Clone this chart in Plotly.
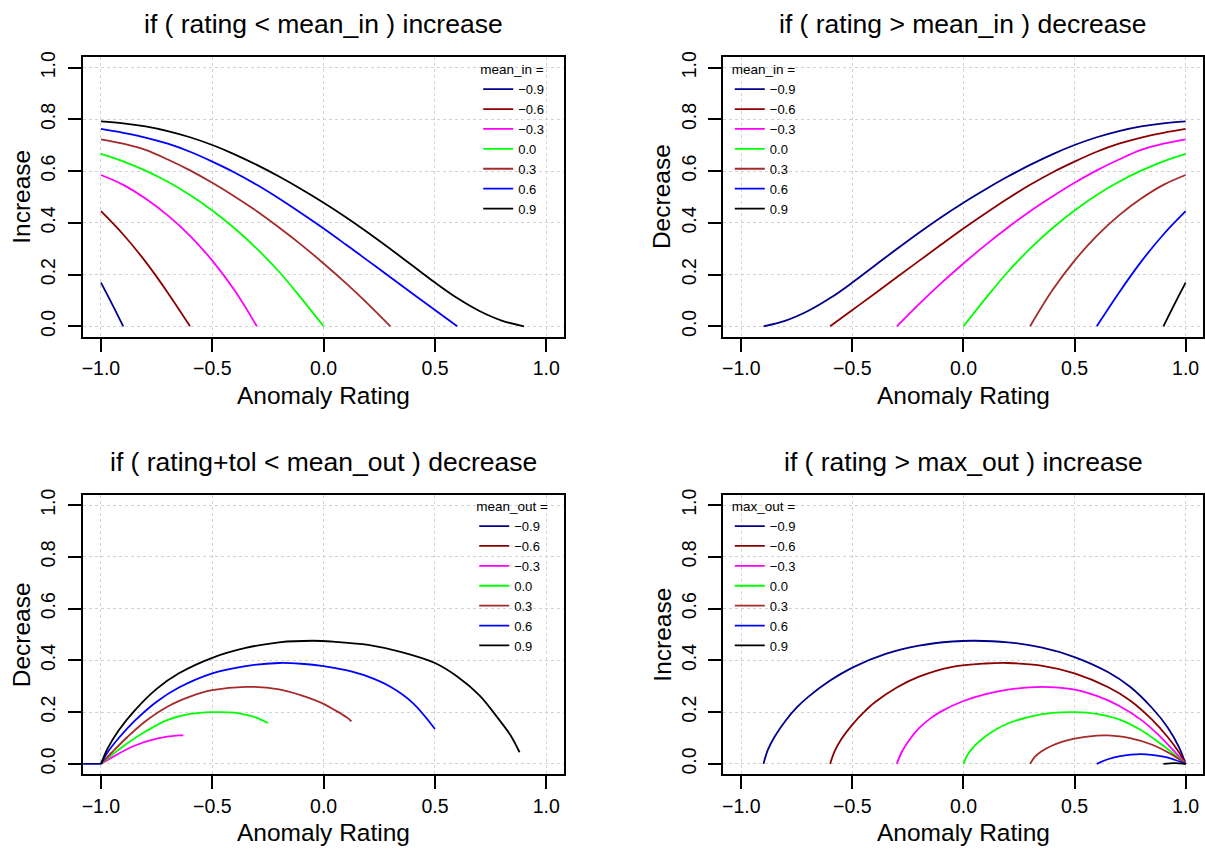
import plotly.graph_objects as go

# ---------------- axis ticks / labels ----------------
X_TICKS = [-1.0, -0.5, 0.0, 0.5, 1.0]
X_TICK_TEXT = ["\u22121.0", "\u22120.5", "0.0", "0.5", "1.0"]
Y_TICKS = [0.0, 0.2, 0.4, 0.6, 0.8, 1.0]
Y_TICK_TEXT = ["0.0", "0.2", "0.4", "0.6", "0.8", "1.0"]

SERIES_LABELS = ["\u22120.9", "\u22120.6", "\u22120.3", "0.0", "0.3", "0.6", "0.9"]
SERIES_COLORS = ["#00008B", "#8B0000", "#FF00FF", "#00FF00", "#A52A2A", "#0000FF", "#000000"]

TITLES = ["if ( rating < mean_in ) increase", "if ( rating > mean_in ) decrease",
          "if ( rating+tol < mean_out ) decrease", "if ( rating > max_out ) increase"]
Y_TITLES = ["Increase", "Decrease", "Decrease", "Increase"]
X_TITLE = "Anomaly Rating"
LEGEND_TITLES = ["mean_in =", "mean_in =", "mean_out =", "max_out ="]

# ---------------- panel 1: if (rating < mean_in) increase ----------------
p1_x = [
    [-1.0, -0.95, -0.9],
    [-1.0, -0.9, -0.8, -0.7, -0.6],
    [-1.0, -0.9, -0.8, -0.7, -0.6, -0.5, -0.4, -0.3],
    [-1.0, -0.9, -0.8, -0.7, -0.6, -0.5, -0.4, -0.3, -0.2, -0.1, 0.0],
    [-1.0, -0.9, -0.8, -0.7, -0.6, -0.5, -0.4, -0.3, -0.2, -0.1, 0.0, 0.1, 0.2, 0.3],
    [-1.0, -0.9, -0.8, -0.7, -0.6, -0.5, -0.4, -0.3, -0.2, -0.1, 0.0, 0.1, 0.2, 0.3, 0.4, 0.5, 0.6],
    [-1.0, -0.9, -0.8, -0.7, -0.6, -0.5, -0.4, -0.3, -0.2, -0.1, 0.0, 0.1, 0.2, 0.3, 0.4, 0.5,
     0.6, 0.7, 0.8, 0.9],
]
p1_y = [
    [0.169, 0.086, 0.0],
    [0.445, 0.355, 0.25, 0.13, 0.0],
    [0.585, 0.547, 0.494, 0.429, 0.35, 0.254, 0.139, 0.0],
    [0.667, 0.638, 0.602, 0.559, 0.508, 0.448, 0.379, 0.30, 0.211, 0.108, 0.0],
    [0.723, 0.706, 0.682, 0.645, 0.603, 0.555, 0.502, 0.445, 0.382, 0.315, 0.243, 0.167, 0.086, 0.0],
    [0.763, 0.748, 0.73, 0.706, 0.675, 0.637, 0.595, 0.547, 0.494, 0.437, 0.378, 0.316, 0.253,
     0.19, 0.126, 0.063, 0.0],
    [0.792, 0.785, 0.773, 0.755, 0.731, 0.701, 0.665, 0.624, 0.579, 0.53, 0.478, 0.422, 0.362,
     0.299, 0.234, 0.169, 0.109, 0.059, 0.022, 0.0],
]

# ---------------- panel 2: if (rating > mean_in) decrease ----------------
p2_x = [
    [-0.9, -0.8, -0.7, -0.6, -0.5, -0.4, -0.3, -0.2, -0.1, 0.0, 0.1, 0.2, 0.3, 0.4, 0.5, 0.6,
     0.7, 0.8, 0.9, 1.0],
    [-0.6, -0.5, -0.4, -0.3, -0.2, -0.1, 0.0, 0.1, 0.2, 0.3, 0.4, 0.5, 0.6, 0.7, 0.8, 0.9, 1.0],
    [-0.3, -0.2, -0.1, 0.0, 0.1, 0.2, 0.3, 0.4, 0.5, 0.6, 0.7, 0.8, 0.9, 1.0],
    [0.0, 0.1, 0.2, 0.3, 0.4, 0.5, 0.6, 0.7, 0.8, 0.9, 1.0],
    [0.3, 0.4, 0.5, 0.6, 0.7, 0.8, 0.9, 1.0],
    [0.6, 0.7, 0.8, 0.9, 1.0],
    [0.9, 0.95, 1.0],
]
p2_y = [
    [0.0, 0.022, 0.059, 0.109, 0.169, 0.234, 0.299, 0.362, 0.422, 0.478, 0.53, 0.579, 0.624,
     0.665, 0.701, 0.731, 0.755, 0.773, 0.785, 0.792],
    [0.0, 0.063, 0.126, 0.19, 0.253, 0.316, 0.378, 0.437, 0.494, 0.547, 0.595, 0.637, 0.675,
     0.706, 0.73, 0.748, 0.763],
    [0.0, 0.086, 0.167, 0.243, 0.315, 0.382, 0.445, 0.502, 0.555, 0.603, 0.645, 0.682, 0.706, 0.723],
    [0.0, 0.108, 0.211, 0.30, 0.379, 0.448, 0.508, 0.559, 0.602, 0.638, 0.667],
    [0.0, 0.139, 0.254, 0.35, 0.429, 0.494, 0.547, 0.585],
    [0.0, 0.13, 0.25, 0.355, 0.445],
    [0.0, 0.086, 0.169],
]

# ---------------- panel 3: if (rating+tol < mean_out) decrease ----------------
p3_x = [
    [-1.2, -1.0],
    [-1.3, -1.2],
    [-1.0, -0.93, -0.85, -0.75, -0.65, -0.63],
    [-1.0, -0.95, -0.9, -0.8, -0.7, -0.6, -0.5, -0.4, -0.35, -0.3, -0.25],
    [-1.0, -0.95, -0.88, -0.8, -0.7, -0.6, -0.5, -0.35, -0.2, -0.1, 0.0, 0.05, 0.1, 0.125],
    [-1.0, -0.97, -0.92, -0.85, -0.75, -0.65, -0.5, -0.35, -0.2, -0.1, 0.0, 0.1, 0.2, 0.3, 0.4, 0.5],
    [-1.0, -0.97, -0.92, -0.85, -0.75, -0.65, -0.5, -0.35, -0.2, -0.05, 0.05, 0.2, 0.35, 0.5,
     0.6, 0.7, 0.78, 0.84, 0.88],
]
p3_y = [
    [0.0, 0.0],
    [0.0, 0.0],
    [0.0, 0.035, 0.07, 0.098, 0.11, 0.11],
    [0.0, 0.035, 0.068, 0.125, 0.17, 0.193, 0.2, 0.198, 0.19, 0.178, 0.158],
    [0.0, 0.045, 0.105, 0.165, 0.222, 0.26, 0.285, 0.298, 0.288, 0.265, 0.232, 0.208, 0.182, 0.165],
    [0.0, 0.045, 0.10, 0.165, 0.24, 0.295, 0.35, 0.378, 0.39, 0.387, 0.378, 0.362, 0.337, 0.298,
     0.236, 0.135],
    [0.0, 0.06, 0.13, 0.205, 0.29, 0.35, 0.41, 0.448, 0.47, 0.476, 0.472, 0.46, 0.432, 0.39,
     0.338, 0.265, 0.18, 0.11, 0.045],
]

# ---------------- panel 4: if (rating > max_out) increase ----------------
p4_x = [
    [-0.9, -0.88, -0.85, -0.8, -0.75, -0.7, -0.6, -0.5, -0.35, -0.2, -0.05, 0.05, 0.2, 0.35,
     0.5, 0.65, 0.75, 0.85, 0.92, 0.97, 1.0],
    [-0.6, -0.58, -0.55, -0.5, -0.45, -0.4, -0.3, -0.2, -0.05, 0.1, 0.2, 0.35, 0.5, 0.65, 0.75,
     0.85, 0.92, 0.97, 1.0],
    [-0.3, -0.28, -0.25, -0.2, -0.15, -0.1, 0.0, 0.1, 0.2, 0.35, 0.5, 0.6, 0.7, 0.8, 0.88, 0.95, 1.0],
    [0.0, 0.02, 0.05, 0.1, 0.15, 0.2, 0.3, 0.4, 0.5, 0.6, 0.7, 0.8, 0.9, 0.95, 1.0],
    [0.3, 0.32, 0.35, 0.4, 0.45, 0.5, 0.6, 0.65, 0.75, 0.85, 0.93, 1.0],
    [0.6, 0.65, 0.7, 0.8, 0.9, 0.95, 1.0],
    [0.9, 0.95, 1.0],
]
p4_y = [
    [0.0, 0.055, 0.105, 0.168, 0.218, 0.258, 0.322, 0.372, 0.425, 0.457, 0.473, 0.476, 0.47,
     0.45, 0.413, 0.355, 0.298, 0.215, 0.14, 0.065, 0.0],
    [0.0, 0.048, 0.095, 0.152, 0.198, 0.237, 0.295, 0.337, 0.375, 0.388, 0.39, 0.38, 0.35, 0.297,
     0.245, 0.17, 0.103, 0.045, 0.0],
    [0.0, 0.042, 0.085, 0.138, 0.175, 0.203, 0.243, 0.27, 0.287, 0.298, 0.287, 0.263, 0.225,
     0.17, 0.11, 0.047, 0.0],
    [0.0, 0.037, 0.07, 0.107, 0.135, 0.156, 0.183, 0.197, 0.2, 0.193, 0.172, 0.13, 0.07, 0.036, 0.0],
    [0.0, 0.026, 0.048, 0.071, 0.087, 0.098, 0.109, 0.11, 0.10, 0.074, 0.04, 0.0],
    [0.0, 0.018, 0.029, 0.038, 0.028, 0.016, 0.0],
    [0.0, 0.003, 0.0],
]

PANEL_X = [p1_x, p2_x, p3_x, p4_x]
PANEL_Y = [p1_y, p2_y, p3_y, p4_y]

# ---------------- layout geometry ----------------
W, H = 1205, 850
FONT = "Liberation Sans, Arial, Helvetica, sans-serif"
X_DOMAINS = [[82.3 / W, 564 / W], [723.7 / W, 0.9995]]
Y_DOMAINS = [[(H - 333) / H, (H - 51.7) / H], [(H - 773.7) / H, (H - 492.3) / H]]
LEGEND_POS = [(478 / W, 1 - 51 / H), (730 / W, 1 - 51 / H),
              (474 / W, 1 - 491 / H), (730 / W, 1 - 491 / H)]

fig = go.Figure()
for p in range(4):
    suffix = "" if p == 0 else str(p + 1)
    leg = "legend" if p == 0 else "legend" + str(p + 1)
    for k in range(7):
        fig.add_trace(go.Scatter(
            x=PANEL_X[p][k], y=PANEL_Y[p][k], mode="lines",
            line=dict(color=SERIES_COLORS[k], width=1.8, shape="spline", smoothing=1.0),
            name=SERIES_LABELS[k], legend=leg, showlegend=True,
            xaxis="x" + suffix, yaxis="y" + suffix, hoverinfo="skip",
        ))

layout = dict(
    width=W, height=H, margin=dict(l=0, r=0, t=0, b=0),
    paper_bgcolor="white", plot_bgcolor="white",
    font=dict(family=FONT, color="black"),
    annotations=[],
)
for p in range(4):
    row, col = p // 2, p % 2
    suffix = "" if p == 0 else str(p + 1)
    xd, yd = X_DOMAINS[col], Y_DOMAINS[row]
    layout["xaxis" + suffix] = dict(
        domain=xd, anchor="y" + suffix, range=[-1.08, 1.08],
        tickvals=X_TICKS, ticktext=X_TICK_TEXT, ticks="outside", ticklen=13, tickwidth=1.5,
        tickcolor="black", tickfont=dict(size=19.5, family=FONT),
        showline=True, mirror=True, linecolor="black", linewidth=2,
        showgrid=True, gridcolor="#D3D3D3", griddash="dot", gridwidth=1, zeroline=False,
    )
    layout["yaxis" + suffix] = dict(
        domain=yd, anchor="x" + suffix, range=[-0.04, 1.04],
        tickvals=Y_TICKS, ticktext=Y_TICK_TEXT, ticks="outside", ticklen=13, tickwidth=1.5,
        tickcolor="black", tickfont=dict(size=19.5, family=FONT), tickangle=-90,
        ticklabelstandoff=5,
        showline=True, mirror=True, linecolor="black", linewidth=2,
        showgrid=True, gridcolor="#D3D3D3", griddash="dot", gridwidth=1, zeroline=False,
    )
    lx, ly = LEGEND_POS[p]
    layout["legend" if p == 0 else "legend" + str(p + 1)] = dict(
        x=lx, y=ly, xanchor="left", yanchor="top", xref="paper", yref="paper",
        bgcolor="rgba(0,0,0,0)", borderwidth=0,
        font=dict(size=13, family=FONT), itemwidth=30,
        title=dict(text=LEGEND_TITLES[p], font=dict(size=13.5, family=FONT)),
    )
    xc = (xd[0] + xd[1]) / 2
    layout["annotations"].append(dict(
        text=TITLES[p], xref="paper", yref="paper", x=xc, y=yd[1] + 33.5 / H,
        xanchor="center", yanchor="middle", showarrow=False, font=dict(size=26.5, family=FONT)))
    layout["annotations"].append(dict(
        text=X_TITLE, xref="paper", yref="paper", x=xc, y=yd[0] - 59 / H,
        xanchor="center", yanchor="middle", showarrow=False, font=dict(size=24.5, family=FONT)))
    layout["annotations"].append(dict(
        text=Y_TITLES[p], xref="paper", yref="paper", x=xd[0] - 61.5 / W, y=(yd[0] + yd[1]) / 2,
        xanchor="center", yanchor="middle", textangle=-90, showarrow=False,
        font=dict(size=24.5, family=FONT)))

fig.update_layout(**layout)
fig.write_html("out.html", config={"displayModeBar": False},
               post_script="document.body.style.margin='0';")
